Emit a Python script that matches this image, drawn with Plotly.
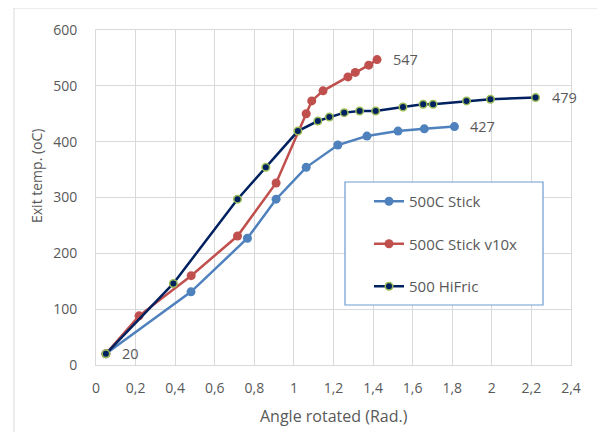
import plotly.graph_objects as go

# Data
stick_x = [0.05, 0.48, 0.765, 0.91, 1.062, 1.222, 1.369, 1.526, 1.659, 1.811]
stick_y = [20, 131, 227, 297, 354, 394, 410, 419, 423, 427]

v10x_x = [0.05, 0.2175, 0.481, 0.715, 0.91, 1.062, 1.09, 1.147, 1.273, 1.31, 1.378, 1.42]
v10x_y = [20, 88, 160, 231, 326, 450, 473, 491, 516, 524, 537, 547]

hifric_x = [0.05, 0.391, 0.715, 0.858, 1.02, 1.121, 1.179, 1.254, 1.332, 1.413, 1.551, 1.653, 1.703, 1.872, 1.993, 2.221]
hifric_y = [20, 146, 297, 354, 419, 437, 444, 452, 455, 455, 462, 467, 467, 473, 476, 479]

x_ticks = [0, 0.2, 0.4, 0.6, 0.8, 1, 1.2, 1.4, 1.6, 1.8, 2, 2.2, 2.4]
x_tick_text = ["0", "0,2", "0,4", "0,6", "0,8", "1", "1,2", "1,4", "1,6", "1,8", "2", "2,2", "2,4"]
y_ticks = [0, 100, 200, 300, 400, 500, 600]

names = ["500C Stick", "500C Stick v10x", "500 HiFric"]
x_title = "Angle rotated (Rad.)"
y_title = "Exit temp. (oC)"

BLUE = "#4F81BD"
RED = "#C0504D"
NAVY = "#002060"
GREEN = "#9BBB59"
TXT = "#595959"
GRID = "#D9D9D9"
FONT = "Open Sans"

# page geometry (body has 8px margin)
OFF = 8
PL, PT, PR, PB = 96, 30, 571, 365   # plot area in page pixels
PW, PH = PR - PL, PB - PT


def px(xp):
    return (xp - PL) / PW


def py(yp):
    return (PB - yp) / PH


fig = go.Figure()
fig.add_trace(go.Scatter(x=stick_x, y=stick_y, name=names[0], mode="lines+markers",
                         line=dict(color=BLUE, width=2.5),
                         marker=dict(color=BLUE, size=9, line=dict(width=0)),
                         legendgroup="a"))
fig.add_trace(go.Scatter(x=v10x_x, y=v10x_y, name=names[1], mode="lines+markers",
                         line=dict(color=RED, width=2.5),
                         marker=dict(color=RED, size=9, line=dict(width=0)),
                         legendgroup="b"))
fig.add_trace(go.Scatter(x=hifric_x, y=hifric_y, name=names[2], mode="lines+markers",
                         line=dict(color=NAVY, width=2.5),
                         marker=dict(color=NAVY, size=7.5, line=dict(color=GREEN, width=1.5)),
                         legendgroup="c"))

# end / start labels
labels = [
    (stick_x[-1], stick_y[-1], str(stick_y[-1])),
    (v10x_x[-1], v10x_y[-1], str(v10x_y[-1])),
    (hifric_x[-1], hifric_y[-1], str(hifric_y[-1])),
    (hifric_x[0], hifric_y[0], str(hifric_y[0])),
]
for lx, ly, lt in labels:
    fig.add_annotation(x=lx, y=ly, text=lt, showarrow=False, xanchor="left",
                       xshift=14, font=dict(family=FONT, size=14.5, color=TXT))

# axis titles
fig.add_annotation(xref="paper", yref="paper", x=px(334), y=py(416), text=x_title,
                   showarrow=False, xanchor="center", yanchor="middle",
                   font=dict(family=FONT, size=16, color=TXT))
fig.add_annotation(xref="paper", yref="paper", x=px(37), y=py(176), text=y_title,
                   showarrow=False, textangle=-90, xanchor="center", yanchor="middle",
                   font=dict(family=FONT, size=14, color=TXT))

# outer chart border
fig.add_shape(type="rect", xref="paper", yref="paper",
              x0=px(14), x1=px(620), y0=py(450), y1=py(8),
              line=dict(color=GRID, width=1), layer="below")
# legend box
fig.add_shape(type="rect", xref="paper", yref="paper",
              x0=px(345), x1=px(543), y0=py(305), y1=py(182),
              line=dict(color="#6F9BD0", width=1.2), fillcolor="white", layer="above")

fig.update_layout(
    width=605 - OFF, height=432 - OFF,
    margin=dict(l=PL - OFF, r=605 - PR, t=PT - OFF, b=432 - PB),
    paper_bgcolor="white", plot_bgcolor="white",
    font=dict(family=FONT, size=14, color=TXT),
    showlegend=True,
    legend=dict(x=px(369), y=py(185), xanchor="left", yanchor="top",
                bgcolor="rgba(0,0,0,0)", borderwidth=0,
                font=dict(family=FONT, size=15, color=TXT),
                traceorder="grouped", tracegroupgap=20),
    xaxis=dict(range=[0, 2.4], tickvals=x_ticks, ticktext=x_tick_text,
               showgrid=True, gridcolor=GRID, gridwidth=1,
               showline=True, linecolor=GRID, mirror=True, zeroline=False,
               ticks="", ticklabelstandoff=10,
               tickfont=dict(family=FONT, size=14, color=TXT)),
    yaxis=dict(range=[0, 600], tickvals=y_ticks,
               showgrid=True, gridcolor=GRID, gridwidth=1,
               showline=True, linecolor=GRID, mirror=True, zeroline=False,
               ticks="", ticklabelstandoff=15,
               tickfont=dict(family=FONT, size=14, color=TXT)),
)

fig.write_html("out.html")
